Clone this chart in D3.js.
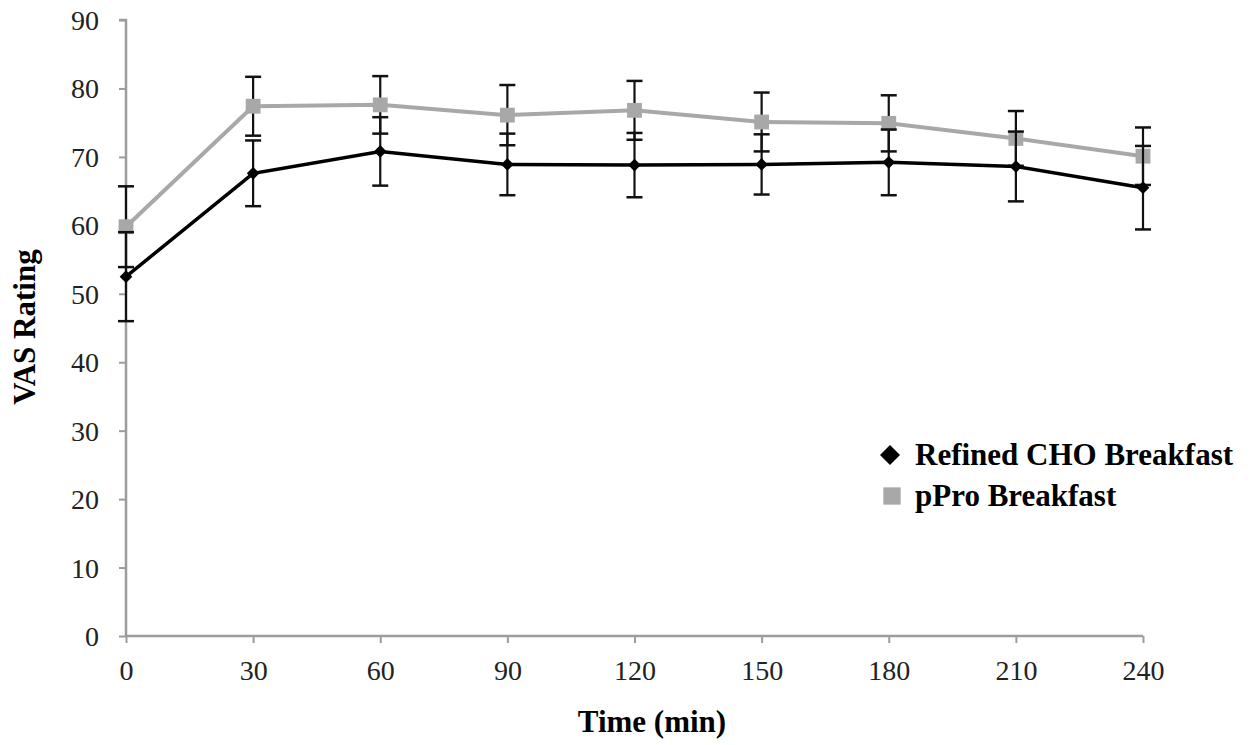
<!DOCTYPE html>
<html>
<head>
<meta charset="utf-8">
<script src="https://cdn.jsdelivr.net/npm/d3@7"></script>
<style>
  body { margin: 0; background: #fff; }
  svg text { font-family: "Liberation Serif", "Times New Roman", serif !important; }
</style>
</head>
<body>
<svg id="chart" width="1251" height="745"></svg>
<script>
// time points (min)
var times = [0, 30, 60, 90, 120, 150, 180, 210, 240];
// Refined CHO Breakfast
var choMean = [52.5, 67.6, 70.8, 68.9, 68.8, 68.9, 69.2, 68.6, 65.5];
var choErr  = [6.5, 4.8, 5.0, 4.5, 4.7, 4.4, 4.8, 5.1, 6.1];
// pPro Breakfast
var proMean = [59.8, 77.4, 77.6, 76.1, 76.8, 75.1, 74.9, 72.7, 70.1];
var proErr  = [5.9, 4.3, 4.2, 4.4, 4.3, 4.3, 4.1, 4.0, 4.2];
var yTicks = [0, 10, 20, 30, 40, 50, 60, 70, 80, 90];

var svg = d3.select('#chart');

var x = d3.scaleLinear().domain([0, 240]).range([126, 1143]);
var y = d3.scaleLinear().domain([0, 90]).range([636, 20]);

var axisColour = '#9c9c9c';
var serif = '"Liberation Serif", "Times New Roman", serif';

// y axis
var yAxis = d3.axisLeft(y).tickValues(yTicks).tickSize(7).tickPadding(20);
var gy = svg.append('g').attr('transform', 'translate(126,0)').call(yAxis);
gy.attr('font-family', serif);
gy.select('.domain').attr('stroke', axisColour).attr('stroke-width', 2.5).attr('d', 'M-7,20H0V636');
gy.selectAll('.tick line').attr('stroke', axisColour).attr('stroke-width', 2);
gy.selectAll('.tick text').attr('font-size', 28).attr('fill', '#222')
  .style('font-family', serif).attr('dy', '0.34em');

// x axis
var xAxis = d3.axisBottom(x).tickValues(times).tickSize(7).tickPadding(17);
var gx = svg.append('g').attr('transform', 'translate(0,636)').call(xAxis);
gx.attr('font-family', serif);
gx.select('.domain').attr('stroke', axisColour).attr('stroke-width', 2.5).attr('d', 'M126,0H1143');
gx.selectAll('.tick line').attr('stroke', axisColour).attr('stroke-width', 2);
gx.selectAll('.tick text').attr('font-size', 28).attr('fill', '#222')
  .style('font-family', serif);

// axis titles
svg.append('text')
  .attr('x', 652).attr('y', 732)
  .attr('text-anchor', 'middle')
  .attr('font-size', 31).attr('font-weight', 'bold')
  .style('font-family', serif)
  .text('Time (min)');

svg.append('text')
  .attr('transform', 'translate(35,327) rotate(-90)')
  .attr('text-anchor', 'middle')
  .attr('font-size', 31).attr('font-weight', 'bold')
  .style('font-family', serif)
  .text('VAS Rating');

function series(mean, err, colour, lineWidth, marker) {
  var pts = times.map(function(t, i) { return {t: t, m: mean[i], e: err[i]}; });
  var g = svg.append('g');

  var line = d3.line()
    .x(function(d) { return x(d.t); })
    .y(function(d) { return y(d.m); });
  g.append('path')
    .datum(pts)
    .attr('fill', 'none')
    .attr('stroke', colour)
    .attr('stroke-width', lineWidth)
    .attr('d', line);

  // error bars
  var eb = g.selectAll('.eb').data(pts).enter().append('g').attr('class', 'eb');
  eb.append('line')
    .attr('x1', function(d) { return x(d.t); })
    .attr('x2', function(d) { return x(d.t); })
    .attr('y1', function(d) { return y(d.m - d.e); })
    .attr('y2', function(d) { return y(d.m + d.e); })
    .attr('stroke', '#111').attr('stroke-width', 2.2);
  [-1, 1].forEach(function(s) {
    eb.append('line')
      .attr('x1', function(d) { return x(d.t) - 8; })
      .attr('x2', function(d) { return x(d.t) + 8; })
      .attr('y1', function(d) { return y(d.m + s * d.e); })
      .attr('y2', function(d) { return y(d.m + s * d.e); })
      .attr('stroke', '#111').attr('stroke-width', 2.5);
  });

  // markers
  g.selectAll('.mk').data(pts).enter().append('path')
    .attr('class', 'mk')
    .attr('transform', function(d) { return 'translate(' + x(d.t) + ',' + y(d.m) + ')' + (marker === 'diamond' ? ' rotate(45)' : ''); })
    .attr('d', marker === 'diamond' ? d3.symbol().type(d3.symbolSquare).size(80)() : d3.symbol().type(d3.symbolSquare).size(220)())
    .attr('fill', colour);
}

series(proMean, proErr, '#a8a8a8', 4, 'square');
series(choMean, choErr, '#000', 3.5, 'diamond');

// legend
var legend = svg.append('g');
legend.append('path')
  .attr('transform', 'translate(890,455) rotate(45)')
  .attr('d', d3.symbol().type(d3.symbolSquare).size(200)())
  .attr('fill', '#000');
legend.append('text')
  .attr('x', 915).attr('y', 465)
  .attr('font-size', 31).attr('font-weight', 'bold')
  .style('font-family', serif)
  .text('Refined CHO Breakfast');
legend.append('path')
  .attr('transform', 'translate(892,496)')
  .attr('d', d3.symbol().type(d3.symbolSquare).size(300)())
  .attr('fill', '#a8a8a8');
legend.append('text')
  .attr('x', 915).attr('y', 506)
  .attr('font-size', 31).attr('font-weight', 'bold')
  .style('font-family', serif)
  .text('pPro Breakfast');
</script>
</body>
</html>
